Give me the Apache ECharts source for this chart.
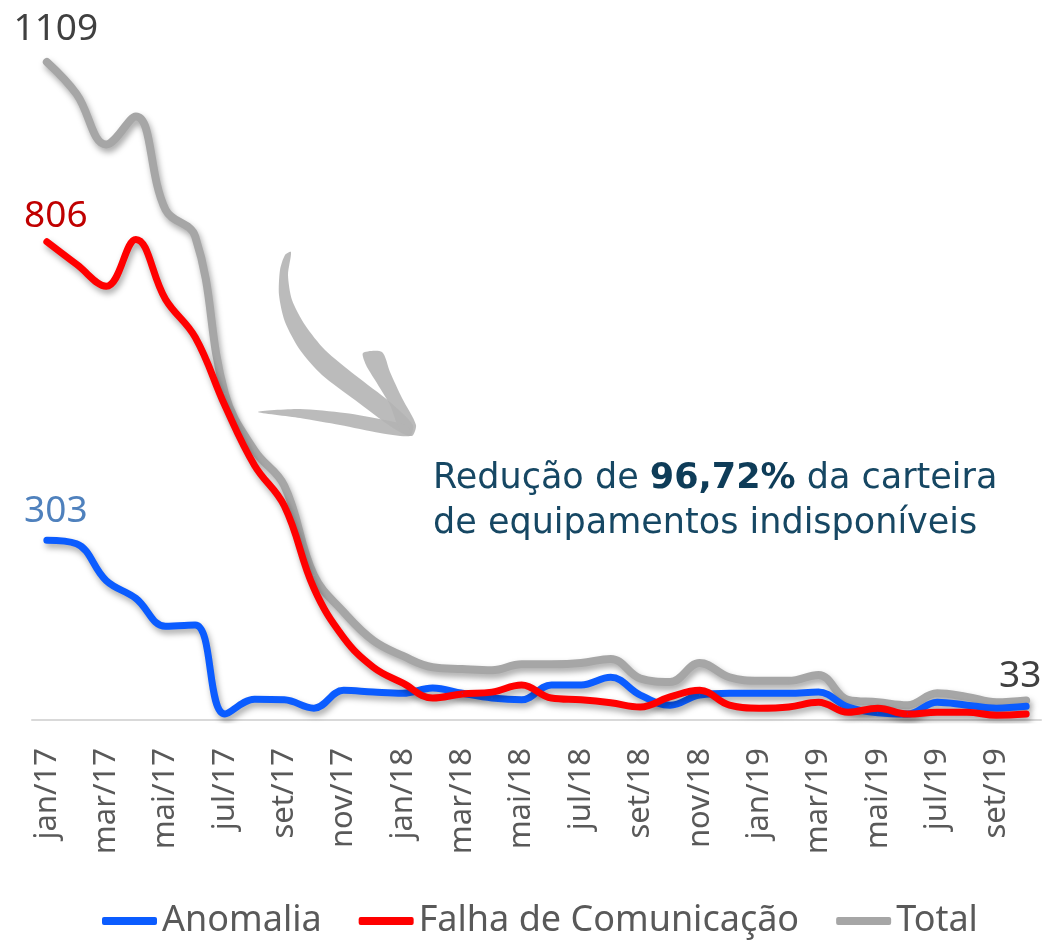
<!doctype html>
<html lang="pt">
  <head>
    <meta charset="UTF-8" />
    <title>Carteira de equipamentos indisponíveis</title>
    <style>
      html, body { margin: 0; padding: 0; background: #fff; }
      #chart { width: 1046px; height: 944px; }
    </style>
  </head>
  <body>
    <div id="chart"></div>
    <script src="https://cdn.jsdelivr.net/npm/echarts@6/dist/echarts.min.js"></script>
    <script>
      const meses = [
        "jan/17", "fev/17", "mar/17", "abr/17", "mai/17", "jun/17",
        "jul/17", "ago/17", "set/17", "out/17", "nov/17", "dez/17",
        "jan/18", "fev/18", "mar/18", "abr/18", "mai/18", "jun/18",
        "jul/18", "ago/18", "set/18", "out/18", "nov/18", "dez/18",
        "jan/19", "fev/19", "mar/19", "abr/19", "mai/19", "jun/19",
        "jul/19", "ago/19", "set/19", "out/19"
      ];

      const anomalia = [
        303, 297, 235, 205, 158, 160, 10, 35, 34, 20, 50, 47,
        45, 54, 45, 37, 34, 59, 59, 72, 42, 25, 42, 45,
        45, 45, 47, 22, 12, 10, 30, 25, 20, 23
      ];

      const falha = [
        806, 768, 731, 810, 709, 645, 530, 429, 361, 222, 139, 89,
        62, 37, 44, 47, 59, 37, 34, 29, 22, 39, 50, 25,
        20, 22, 30, 13, 20, 10, 13, 13, 8, 10
      ];

      const total = [
        1109, 1055, 970, 1017, 860, 815, 550, 454, 395, 244, 182, 134,
        108, 89, 86, 84, 94, 94, 96, 103, 70, 64, 96, 72,
        66, 66, 76, 34, 30, 25, 45, 39, 30, 33
      ];

      const fonte = "Noto Sans";
      const sombra = {
        shadowColor: "rgba(0,0,0,0.35)",
        shadowBlur: 6,
        shadowOffsetX: 2,
        shadowOffsetY: 4
      };

      // rótulo só no primeiro / último ponto (índice -> deslocamento)
      function comRotulo(valores, cor, pontas) {
        return valores.map((v, i) => {
          if (!(i in pontas)) return v;
          return {
            value: v,
            label: {
              show: true,
              position: "top",
              distance: 2,
              offset: pontas[i],
              color: cor,
              fontFamily: fonte,
              fontSize: 37
            }
          };
        });
      }

      function linha(nome, valores, cor, largura, corRotulo, pontas) {
        return {
          name: nome,
          type: "line",
          data: comRotulo(valores, corRotulo, pontas),
          smooth: 0.4,
          symbol: "circle",
          symbolSize: 1,
          showSymbol: true,
          showAllSymbol: true,
          color: cor,
          itemStyle: { color: cor },
          lineStyle: Object.assign({ width: largura, color: cor, cap: "round" }, sombra)
        };
      }

      // seta decorativa (desenho à mão)
      const cinzaSeta = { fill: "#b4b4b4", opacity: 0.9 };
      const seta = [
        [[291, 252], [288, 275], [292, 300], [305, 325], [325, 350], [355, 375], [390, 402], [413, 425],
         [410, 436], [393, 428], [355, 400], [322, 375], [300, 350], [285, 322], [279, 295], [280, 270], [285, 255]],
        [[363, 353], [382, 352], [390, 372], [402, 398], [416, 425], [412, 436], [400, 430], [390, 405],
         [375, 380], [366, 365]],
        [[258, 412], [300, 409], [345, 413], [385, 420], [408, 426], [410, 436], [380, 433], [340, 425], [300, 418]]
      ].map((pts) => ({
        type: "polygon",
        z: 1,
        shape: { points: pts, smooth: 0.25 },
        style: cinzaSeta
      }));

      const chart = echarts.init(document.getElementById("chart"));

      const option = {
        animation: false,
        grid: { left: 32, right: 5, top: 8, bottom: 224 },
        legend: {
          data: ["Anomalia", "Falha de Comunicação", "Total"],
          left: 97,
          top: 898,
          icon: "roundRect",
          itemWidth: 55,
          itemHeight: 8,
          itemGap: 37,
          textStyle: { fontFamily: fonte, fontSize: 36, color: "#595959" }
        },
        xAxis: {
          type: "category",
          data: meses,
          boundaryGap: true,
          axisLine: { lineStyle: { color: "#d9d9d9", width: 2 } },
          axisTick: { show: false },
          axisLabel: {
            interval: 1,
            rotate: 90,
            margin: 28,
            fontFamily: fonte,
            fontSize: 31,
            color: "#595959"
          }
        },
        yAxis: {
          type: "value",
          min: 0,
          max: 1200,
          show: false,
          splitLine: { show: false }
        },
        graphic: seta.concat([
          {
            type: "text",
            left: 433,
            top: 461,
            z: 10,
            style: {
              text:
                "{n|Redução de }{b|96,72%}{n| da carteira}\n{n|de equipamentos indisponíveis}",
              rich: {
                n: { fill: "#164763", fontFamily: "DejaVu Sans", fontSize: 35, lineHeight: 45 },
                b: {
                  fill: "#0e3c58",
                  fontFamily: "DejaVu Sans",
                  fontSize: 35,
                  fontWeight: "bold",
                  lineHeight: 45
                }
              }
            }
          }
        ]),
        series: [
          linha("Total", total, "#a6a6a6", 8, "#404040", { 0: [9, -12], 33: [-6, -3] }),
          linha("Anomalia", anomalia, "#0b5cff", 7, "#4f81bd", { 0: [9, -8] }),
          linha("Falha de Comunicação", falha, "#ff0000", 7, "#c00000", { 0: [9, -4] })
        ]
      };

      chart.setOption(option);
    </script>
  </body>
</html>
